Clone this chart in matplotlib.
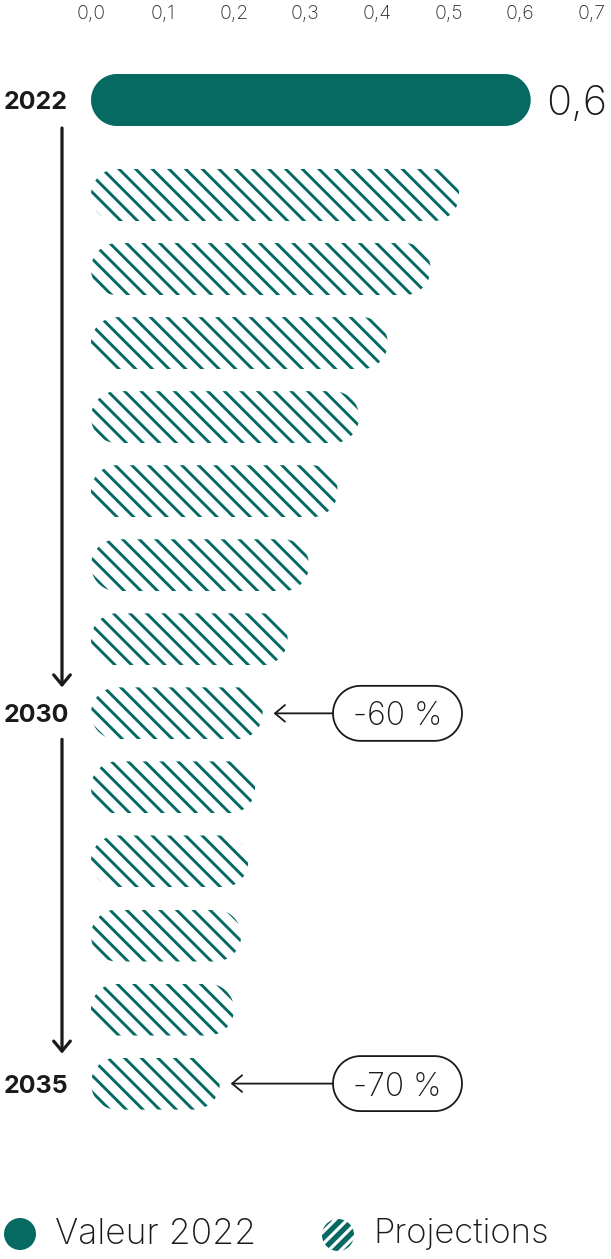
import matplotlib
matplotlib.use("Agg")
import matplotlib.pyplot as plt
from matplotlib.patches import Polygon, Circle
import numpy as np

# ---------------- data ----------------
base_year = 2022
base_value = 0.615
proj_years = [2023, 2024, 2025, 2026, 2027, 2028, 2029, 2030, 2031, 2032, 2033, 2034, 2035]
proj_values = [0.515, 0.475, 0.415, 0.375, 0.345, 0.305, 0.275, 0.24, 0.23, 0.22, 0.21, 0.20, 0.18]
xticks = [0.0, 0.1, 0.2, 0.3, 0.4, 0.5, 0.6, 0.7]
labeled_years = [2022, 2030, 2035]
change_years = [2030, 2035]
change_labels = ["-60 %", "-70 %"]
legend_labels = ["Valeur 2022", "Projections"]

# ---------------- style ----------------
TEAL = "#066a63"
INK = "#1a1a1a"
FONT = ["Inter", "DejaVu Sans"]
plt.rcParams["font.family"] = FONT
plt.rcParams["hatch.linewidth"] = 2.1

W, H = 611, 1259
fig = plt.figure(figsize=(W / 100, H / 100), dpi=100)

X0 = 91.0          # pixel of x=0
PX = 715.0         # pixels per x unit
ROW0 = 195.0       # pixel of first projection row
RP = 74.05         # pixels per row
TOP, BOT = 30.0, 1150.0

ax = fig.add_axes([X0 / W, 1 - BOT / H, 0.7 * PX / W, (BOT - TOP) / H])
ax.set_xlim(0, 0.7)
ax.set_ylim((BOT - ROW0) / RP, (TOP - ROW0) / RP)
for s in ax.spines.values():
    s.set_visible(False)
ax.xaxis.tick_top()
ax.set_xticks(xticks)
ax.set_xticklabels([f"{t:.1f}".replace(".", ",") for t in xticks],
                   fontsize=14, color="#2a2a2a", fontweight="light")
ax.tick_params(axis="x", length=0, pad=5)
ax.set_yticks([])

BAR_PX = 52.0
BAR_H = BAR_PX / RP


def row_of(year):
    if year == base_year:
        return (100.0 - ROW0) / RP
    return proj_years.index(year)


def pill_poly(x0, x1, yc, h_px, **kw):
    r = h_px / 2.0
    rx, ry = r / PX, r / RP
    t = np.linspace(-np.pi / 2, np.pi / 2, 60)
    right = np.column_stack([x1 - rx + rx * np.cos(t), yc + ry * np.sin(t)])
    left = np.column_stack([x0 + rx - rx * np.cos(t), yc - ry * np.sin(t)])
    return Polygon(np.vstack([right, left]), closed=True,
                   transform=ax.transData, **kw)


# base bar
yb = row_of(base_year)
bb = ax.barh([yb], [base_value], height=BAR_H, left=0, color=TEAL, linewidth=0)
for p in bb.patches:
    p.set_clip_path(pill_poly(0, base_value, yb, BAR_PX))
ax.annotate(f"{base_value:.1f}".replace(".", ","), xy=(base_value, yb),
            xytext=(11, 0), textcoords="offset points", va="center_baseline",
            ha="left", fontsize=30, fontweight="light", color=INK,
            annotation_clip=False)

# projection bars
rows = [row_of(y) for y in proj_years]
pb = ax.barh(rows, proj_values, height=BAR_H, left=0, color="white",
             edgecolor=TEAL, linewidth=0, hatch="\\\\")
for p, r, v in zip(pb.patches, rows, proj_values):
    p.set_clip_path(pill_poly(0, v, r, BAR_PX))

# year labels
for yr in labeled_years:
    ax.text(-55.0 / PX, row_of(yr), str(yr), ha="center", va="center_baseline",
            fontsize=18, fontweight="bold", color=INK, clip_on=False)

# vertical timeline arrows
xa = -29.0 / PX
segs = [(row_of(2022) + 28 / RP, row_of(2030) - 26 / RP),
        (row_of(2030) + 26 / RP, row_of(2035) - 30 / RP)]
for y0, y1 in segs:
    ax.annotate("", xy=(xa, y1), xytext=(xa, y0), annotation_clip=False,
                arrowprops=dict(arrowstyle="->,head_length=0.36,head_width=0.3",
                                lw=2.3, color=INK, shrinkA=0, shrinkB=0,
                                mutation_scale=20))

# change annotations
box_left = (333.0 - X0) / PX
box_w = 129.0 / PX
for yr, lab in zip(change_years, change_labels):
    r = row_of(yr)
    v = proj_values[proj_years.index(yr)]
    ax.add_patch(pill_poly(box_left, box_left + box_w, r, 55.0,
                           facecolor="white", edgecolor=INK, linewidth=1.3,
                           clip_on=False))
    ax.text(box_left + box_w / 2, r, lab, ha="center", va="center_baseline",
            fontsize=23, fontweight="light", color=INK)
    ax.annotate("", xy=(v + 11.0 / PX, r), xytext=(box_left, r), annotation_clip=False,
                arrowprops=dict(arrowstyle="->,head_length=0.36,head_width=0.3",
                                lw=1.3, color=INK, shrinkA=0, shrinkB=0,
                                mutation_scale=20))

# ---------------- legend (pixel overlay) ----------------
ov = fig.add_axes([0, 0, 1, 1], zorder=-1)
ov.set_xlim(0, W)
ov.set_ylim(H, 0)
ov.axis("off")
ov.add_patch(Circle((20, 1234), 16, facecolor=TEAL, edgecolor="none"))
ov.text(55, 1234, legend_labels[0], ha="left", va="center", fontsize=25.5,
        fontweight="light", color=INK)
cx, cy, rad = 338, 1235, 16
clip = Circle((cx, cy), rad, facecolor="none", edgecolor="none")
ov.add_patch(clip)
d = np.array([1.0, -1.0]) / np.sqrt(2)
n = np.array([1.0, 1.0]) / np.sqrt(2)
for k in range(-3, 4):
    c = np.array([cx, cy]) + k * 8.5 * n
    p0, p1 = c - 30 * d, c + 30 * d
    ln, = ov.plot([p0[0], p1[0]], [p0[1], p1[1]], color=TEAL, lw=3.8,
                  solid_capstyle="butt")
    ln.set_clip_path(clip)
ov.text(373, 1234, legend_labels[1], ha="left", va="center", fontsize=25,
        fontweight="light", color=INK)

fig.savefig("out.png", dpi=100)
